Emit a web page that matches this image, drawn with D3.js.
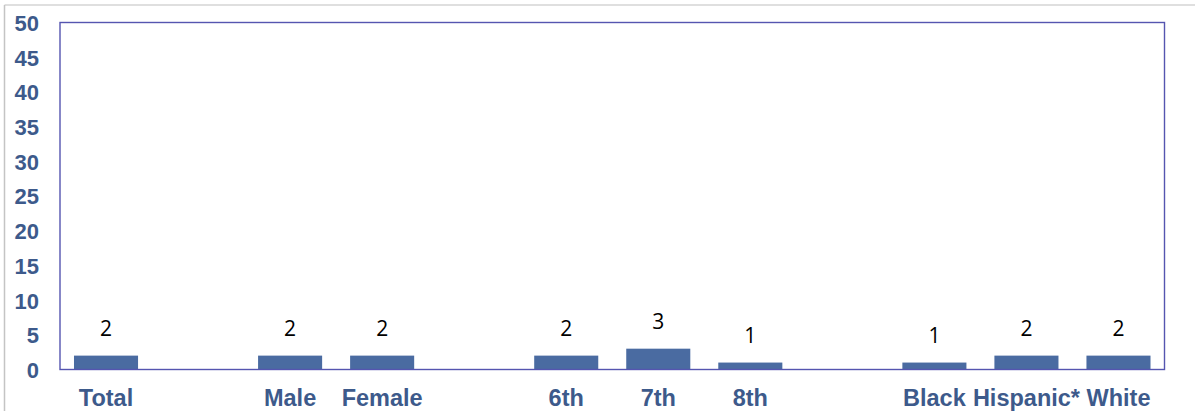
<!DOCTYPE html>
<html>
<head>
<meta charset="utf-8">
<script src="https://cdn.jsdelivr.net/npm/d3@7"></script>
<style>
  html, body { margin: 0; padding: 0; background: #fff; }
  svg { display: block; }
</style>
</head>
<body>
<svg id="chart" width="1204" height="411"></svg>
<script>
// Category slots; empty strings are spacer slots between groups
const categories = ["Total", "", "Male", "Female", "", "6th", "7th", "8th", "", "Black", "Hispanic*", "White"];
const values = [2, null, 2, 2, null, 2, 3, 1, null, 1, 2, 2];
const yTicks = [0, 5, 10, 15, 20, 25, 30, 35, 40, 45, 50];

const svg = d3.select("#chart");
const W = 1204, H = 411;
const plot = { left: 60, right: 1164.5, top: 22.5, bottom: 369.5 };

const x = d3.scaleBand()
  .domain(categories.map((c, i) => i))
  .range([plot.left, plot.right])
  .paddingInner(0.304)
  .paddingOuter(0.152);

const y = d3.scaleLinear().domain([0, 50]).range([plot.bottom, plot.top]);

// Outer frame (top and left edges)
svg.append("line").attr("x1", 4.5).attr("x2", 1195).attr("y1", 5).attr("y2", 5)
  .attr("stroke", "#d4d4d4").attr("stroke-width", 1.5);
svg.append("line").attr("x1", 4.5).attr("x2", 4.5).attr("y1", 5).attr("y2", H)
  .attr("stroke", "#c4c4c4").attr("stroke-width", 1.5);

// Bars
const data = categories.map((c, i) => ({ i, c, v: values[i] })).filter(d => d.v != null);
svg.append("g").selectAll("rect").data(data).join("rect")
  .attr("x", d => x(d.i))
  .attr("width", x.bandwidth())
  .attr("y", d => y(d.v))
  .attr("height", d => y(0) - y(d.v))
  .attr("fill", "#4a6ba1");

// Value labels
svg.append("g").selectAll("text").data(data).join("text")
  .attr("x", d => x(d.i) + x.bandwidth() / 2)
  .attr("y", d => y(d.v) - 20)
  .attr("text-anchor", "middle")
  .attr("font-family", "'Open Sans', 'Liberation Sans', sans-serif")
  .attr("font-size", 21)
  .attr("fill", "#000")
  .text(d => d.v);

// Plot border
svg.append("rect")
  .attr("x", plot.left).attr("y", plot.top)
  .attr("width", plot.right - plot.left).attr("height", plot.bottom - plot.top)
  .attr("fill", "none").attr("stroke", "#5555b0").attr("stroke-width", 1.4);

// Y axis labels
const yAxis = d3.axisLeft(y).tickValues(yTicks).tickSize(0).tickPadding(0);
const gy = svg.append("g").attr("transform", "translate(39,0)").call(yAxis);
gy.select(".domain").remove();
gy.selectAll("text")
  .attr("font-family", "'Liberation Sans', Arial, sans-serif")
  .attr("font-weight", "bold")
  .attr("font-size", 22)
  .attr("fill", "#3d5a8b")
  .attr("dy", "0.36em");

// X axis labels
const xAxis = d3.axisBottom(x).tickSize(0).tickPadding(0).tickFormat(i => categories[i]);
const gx = svg.append("g").attr("transform", `translate(0,${plot.bottom})`).call(xAxis);
gx.select(".domain").remove();
gx.selectAll("text")
  .attr("y", 36)
  .attr("dy", 0)
  .attr("font-family", "'Liberation Sans', Arial, sans-serif")
  .attr("font-weight", "bold")
  .attr("font-size", 23.5)
  .attr("fill", "#3d5a8b");
</script>
</body>
</html>
